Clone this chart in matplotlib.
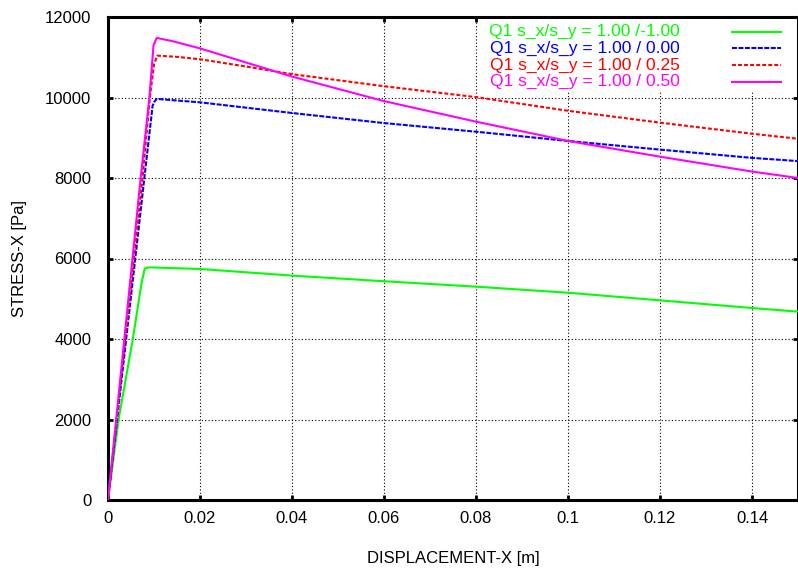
import matplotlib
matplotlib.use("Agg")
import matplotlib.pyplot as plt
from matplotlib.patches import Rectangle

plt.rcParams['font.family'] = ['Liberation Sans', 'DejaVu Sans']

# Data
green_x = [0, 0.0023, 0.0054, 0.0073, 0.0080, 0.0088, 0.02, 0.04, 0.06, 0.08, 0.10, 0.12, 0.14, 0.15]
green_y = [0, 2000, 4000, 5400, 5750, 5780, 5740, 5575, 5435, 5300, 5150, 4960, 4770, 4680]

blue_x = [0, 0.0079, 0.0097, 0.0101, 0.0106, 0.02, 0.04, 0.06, 0.08, 0.10, 0.12, 0.14, 0.15]
blue_y = [0, 8000, 9800, 9900, 9965, 9880, 9615, 9365, 9150, 8920, 8705, 8500, 8420]

red_x = [0, 0.0075, 0.0091, 0.0100, 0.0107, 0.015, 0.02, 0.03, 0.04, 0.06, 0.08, 0.10, 0.12, 0.14, 0.15]
red_y = [0, 8000, 10000, 10820, 11040, 11010, 10950, 10770, 10580, 10280, 10010, 9670, 9375, 9100, 8975]

mag_x = [0, 0.0071, 0.0090, 0.0099, 0.0106, 0.014, 0.02, 0.03, 0.04, 0.06, 0.08, 0.10, 0.12, 0.14, 0.15]
mag_y = [0, 8000, 10000, 11300, 11480, 11400, 11220, 10870, 10520, 9910, 9400, 8920, 8530, 8160, 8000]

labels = ["Q1 s_x/s_y = 1.00 /-1.00",
          "Q1 s_x/s_y = 1.00 / 0.00",
          "Q1 s_x/s_y = 1.00 / 0.25",
          "Q1 s_x/s_y = 1.00 / 0.50"]
colors = ["#00ff00", "#0000ff", "#ff0000", "#ff00ff"]
styles = ["-", (0, (2.4, 0.7)), (0, (1.9, 1.0)), "-"]

x_ticks = [0, 0.02, 0.04, 0.06, 0.08, 0.1, 0.12, 0.14]
x_tick_labels = ["0", "0.02", "0.04", "0.06", "0.08", "0.1", "0.12", "0.14"]
y_ticks = [0, 2000, 4000, 6000, 8000, 10000, 12000]

W, H = 798, 574
fig = plt.figure(figsize=(W / 100, H / 100), dpi=100)
ax = fig.add_axes([108 / W, (H - 500) / H, (798 - 108) / W, (500 - 17) / H])

series = [(green_x, green_y), (blue_x, blue_y), (red_x, red_y), (mag_x, mag_y)]
for (xs, ys), c, ls in zip(series, colors, styles):
    ax.plot(xs, ys, color=c, linestyle=ls, linewidth=1.5, zorder=3)

ax.set_xlim(0, 0.15)
ax.set_ylim(0, 12000)
ax.set_xticks(x_ticks)
ax.set_xticklabels(x_tick_labels)
ax.set_yticks(y_ticks)
ax.grid(True, color="black", linestyle=(0, (1, 2)), linewidth=0.8, zorder=1)
ax.set_axisbelow(True)
ax.tick_params(direction="in", length=3.5, width=2, top=True, right=True,
               labelsize=12, colors="black")
ax.tick_params(axis="x", pad=8)
ax.tick_params(axis="y", pad=12)
for s in ax.spines.values():
    s.set_linewidth(2.2)

ax.set_xlabel("DISPLACEMENT-X [m]", fontsize=12, labelpad=18)
ax.set_ylabel("STRESS-X [Pa]", fontsize=12, labelpad=13)

# key area hides the grid (gnuplot style)
fig.add_artist(Rectangle((478 / W, 1 - 91 / H), (796 - 478) / W, (91 - 19) / H,
                         transform=fig.transFigure, facecolor="white",
                         edgecolor="none", zorder=2))

row_y = [31.7, 48.3, 65.3, 81.7]
for lab, c, ls, yp in zip(labels, colors, styles, row_y):
    fig.text(680 / W, 1 - yp / H, lab, color=c, fontsize=12.5,
             ha="right", va="center", zorder=4)
    fig.add_artist(plt.Line2D([732 / W, 781 / W], [1 - yp / H, 1 - yp / H],
                              color=c, linestyle=ls, linewidth=1.5,
                              transform=fig.transFigure, zorder=4))

fig.savefig("out.png", dpi=100)
